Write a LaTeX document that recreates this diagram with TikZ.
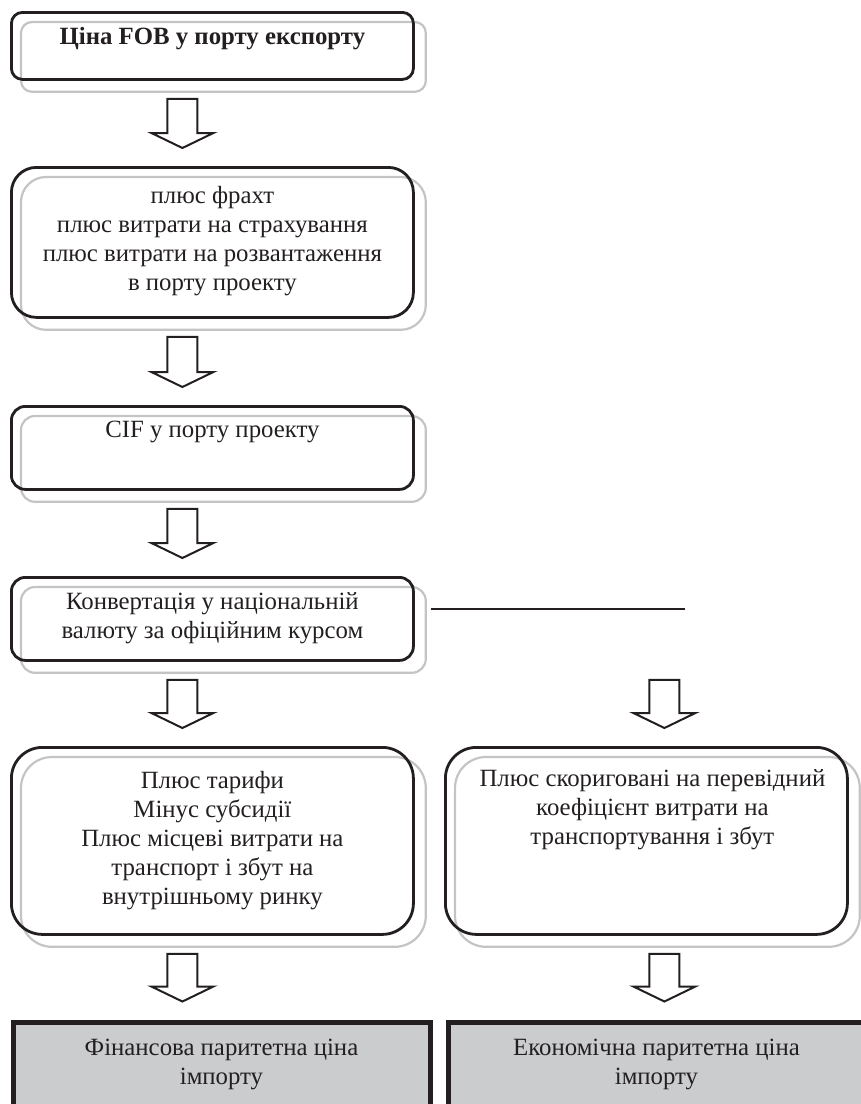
\documentclass[tikz,border=0pt]{standalone}
\usepackage{fontspec}
\setmainfont{Liberation Serif}
\usetikzlibrary{calc,positioning}
\pgfdeclarelayer{background}
\pgfsetlayers{background,main}
\definecolor{ink}{HTML}{231F20}
\definecolor{ghost}{HTML}{C4C4C4}
\definecolor{panel}{HTML}{CBCCCE}

\begin{document}
\begin{tikzpicture}[
    x=1pt,y=-1pt,
    font=\fontsize{24.8}{29}\selectfont,
    stage/.style={draw=ink,line width=2.8pt,rounded corners=#1,
                  minimum width=402pt,anchor=north west,inner sep=0pt},
    txt/.style={align=center,inner sep=0pt,text=ink},
    result/.style={draw=ink,line width=5pt,fill=panel,text=ink,align=center,
                   minimum width=417pt,minimum height=84pt,anchor=north west,inner sep=0pt},
    shade/.style={draw=ghost,line width=2.2pt},
    hollow/.style={draw=ink,line width=2pt,line join=miter,
                   to path={let \p1=(\tikztostart), \p2=(\tikztotarget) in
                     (\x1-15pt,\y1-18pt) -- (\x1-15pt,\y2+33pt) -- (\x1-31pt,\y2+33pt)
                     -- (\x1,\y2+18pt) -- (\x1+31pt,\y2+33pt) -- (\x1+15pt,\y2+33pt)
                     -- (\x1+15pt,\y1-18pt) -- cycle}},
    link/.style={draw=ink,line width=2.7pt}
  ]
    \useasboundingbox (0,0) rectangle (861,1104);

    % main chain
    \node[stage=11pt,minimum height=67pt] (fob) at (10,11) {};
    \node[stage=25pt,minimum height=150pt] (freight) at (10,166) {};
    \node[stage=14pt,minimum height=83pt] (cif) at (10,405) {};
    \node[stage=14pt,minimum height=83pt] (conv) at (10,576) {};
    \node[stage=31pt,minimum height=187pt] (finadj) at (10,746) {};
    \node[stage=31pt,minimum height=187pt] (econadj) at (444,746) {};
    \node[result] (finres) at (10.5,1019.5) {Фінансова паритетна ціна\\імпорту};
    \node[result] (econres) at (445.5,1019.5) {Економічна паритетна ціна\\імпорту};

    \node[txt,below=16pt of fob.north] (fobtxt) {\bfseries Ціна FOB у порту експорту};
    \node[txt,below=20pt of freight.north] (freighttxt)
      {плюс фрахт\\плюс витрати на страхування\\плюс витрати на розвантаження\\в порту проекту};
    \node[txt,below=16pt of cif.north] (ciftxt) {CIF у порту проекту};
    \node[txt,below=16pt of conv.north] (convtxt)
      {Конвертація у національній\\валюту за офіційним курсом};
    \node[txt,below=25pt of finadj.north] (finadjtxt)
      {Плюс тарифи\\Мінус субсидії\\Плюс місцеві витрати на\\транспорт і збут на\\внутрішньому ринку};
    \node[txt,below=23pt of econadj.north,xshift=6pt] (econadjtxt)
      {Плюс скориговані на перевідний\\коефіцієнт витрати на\\транспортування і збут};

    % grey copies behind the rounded boxes
    \begin{pgfonlayer}{background}
      \foreach \b/\r in {fob/11,freight/25,cif/14,conv/14,finadj/31,econadj/31}
        \draw[shade,rounded corners=\r pt] ([shift={(11,11)}]\b.north west)
          rectangle ([shift={(11,11)}]\b.south east);
    \end{pgfonlayer}

    % block arrows
    \draw[hollow] ([xshift=-30pt]fob.south) to ([xshift=-30pt]freight.north);
    \draw[hollow] ([xshift=-30pt]freight.south) to ([xshift=-30pt]cif.north);
    \draw[hollow] ([xshift=-30pt]cif.south) to ([xshift=-30pt]conv.north);
    \draw[hollow] ([xshift=-30pt]conv.south) to ([xshift=-30pt]finadj.north);
    \draw[hollow] ([xshift=18pt]econadj.north |- conv.south) to ([xshift=18pt]econadj.north);
    \draw[hollow] ([xshift=-30pt]finadj.south) to ([xshift=-30pt]finadj.south |- finres.north);
    \draw[hollow] ([xshift=18pt]econadj.south) to ([xshift=18pt]econadj.south |- econres.north);

    \coordinate (branch) at (685,609);
    \draw[link] ([xshift=16pt]conv.east |- branch) -- (branch);
  \end{tikzpicture}
\end{document}
